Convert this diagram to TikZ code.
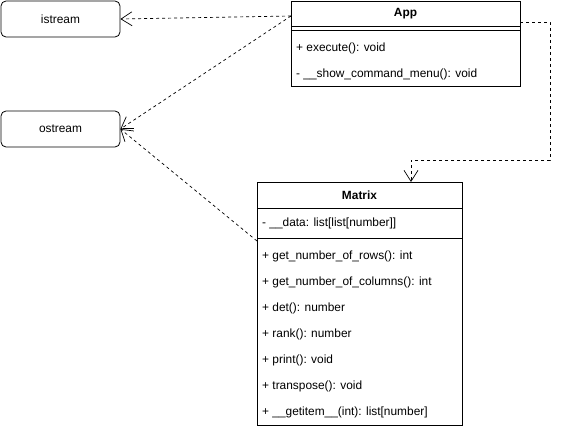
\documentclass[tikz,border=0pt]{standalone}
\usepackage{fontspec}
\setmainfont{Liberation Sans}
\usetikzlibrary{arrows.meta}
\begin{document}
\begin{tikzpicture}[x=1pt,y=-1pt,
  txt/.style={font=\fontsize{11.9}{13}\selectfont, inner sep=0pt},
  row/.style={txt, anchor=west},
  rbox/.style={draw, rounded corners=5pt, line width=0.8pt, minimum width=119pt, minimum height=36pt, inner sep=0pt, font=\fontsize{11.9}{13}\selectfont},
  cls/.style={draw, line width=0.8pt},
  dep/.style={draw, line width=0.7pt, dash pattern=on 3pt off 3pt, -{Straight Barb[length=11pt,width=14pt,line width=0.7pt]}}
]
\useasboundingbox (0,0) rectangle (565,428);
% plain boxes
\node[rbox] (istream) at (60.5,19) {istream};
\node[rbox] (ostream) at (60.5,129) {ostream};
% App class
\draw[cls] (291,1) rectangle (520,86);
\coordinate (appL) at (291,16);
\coordinate (appR) at (520,22);
\draw[cls] (291,26) -- (520,26);
\draw[cls] (291,30) -- (520,30);
\node[txt, font=\fontsize{11.9}{13}\selectfont\bfseries] (apptitle) at (405.5,14) {App};
\node[row] (app1) at (296,48) {+ execute(): void};
\node[row] (app2) at (296,74) {- \_\_show\_command\_menu(): void};
% Matrix class
\draw[cls] (257,182) rectangle (462,425);
\draw[cls] (257,208) -- (462,208);
\draw[cls] (257,238) -- (462,238);
\coordinate (matL) at (257,241);
\coordinate (matT) at (411,182);
\node[txt, font=\fontsize{11.9}{13}\selectfont\bfseries] (mattitle) at (359.5,195) {Matrix};
\node[row] (m0) at (262,223) {- \_\_data: list[list[number]]};
\node[row] (m1) at (262,256) {+ get\_number\_of\_rows(): int};
\node[row] (m2) at (262,282) {+ get\_number\_of\_columns(): int};
\node[row] (m3) at (262,308) {+ det(): number};
\node[row] (m4) at (262,334) {+ rank(): number};
\node[row] (m5) at (262,360) {+ print(): void};
\node[row] (m6) at (262,386) {+ transpose(): void};
\node[row] (m7) at (262,412) {+ \_\_getitem\_\_(int): list[number]};
% connectors
\draw[dep] (appL) -- (istream.east);
\draw[dep] (appL) -- (ostream.east);
\draw[dep] (matL) -- (ostream.east);
\draw[dep] (appR) -- (550,22) -- (550,160) -- (411,160) -- (matT);
\end{tikzpicture}
\end{document}
